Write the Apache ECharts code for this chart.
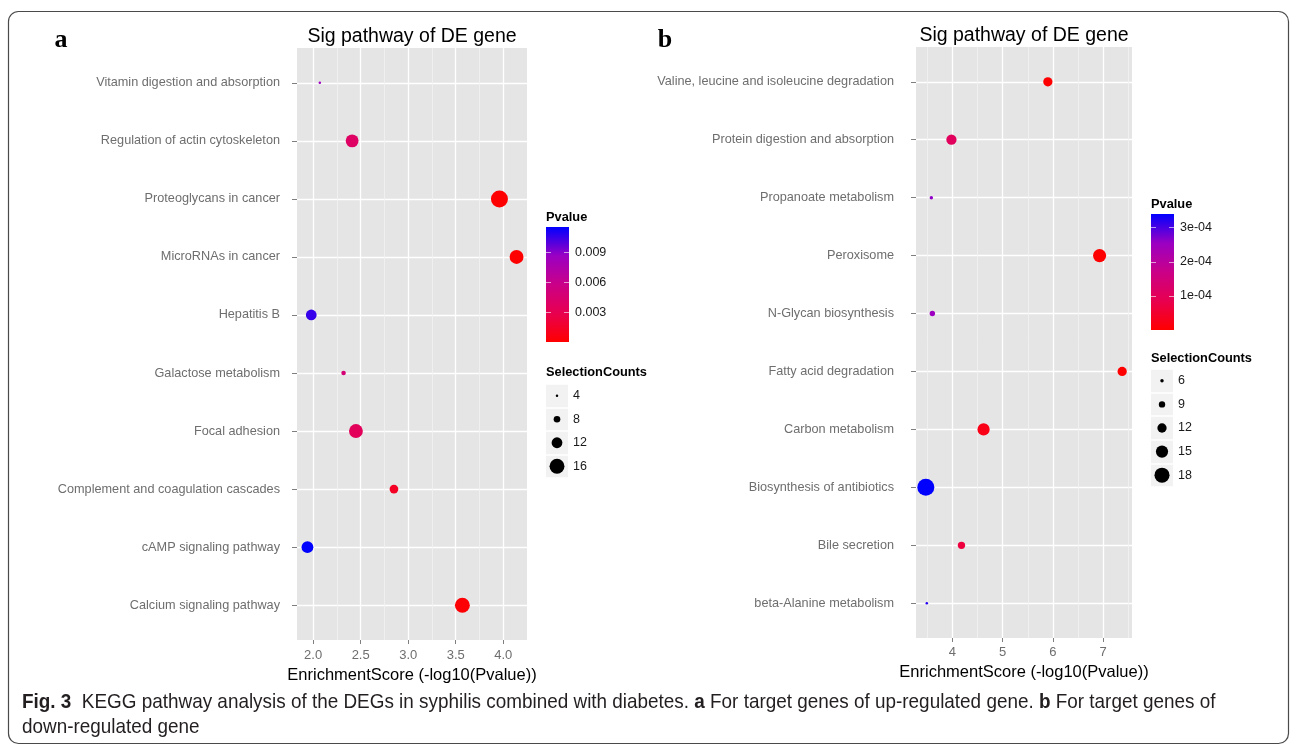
<!DOCTYPE html>
<html>
<head>
<meta charset="utf-8">
<script src="https://cdn.jsdelivr.net/npm/echarts@6/dist/echarts.min.js"></script>
<style>
  html, body { margin: 0; padding: 0; background: #fff; }
  #chart { width: 1290px; height: 745px; }
</style>
</head>
<body>
<div id="chart"></div>
<script>
// panel a (up-regulated), listed bottom to top like the ggplot axis
const pathwaysA = ['Calcium signaling pathway', 'cAMP signaling pathway', 'Complement and coagulation cascades', 'Focal adhesion', 'Galactose metabolism', 'Hepatitis B', 'MicroRNAs in cancer', 'Proteoglycans in cancer', 'Regulation of actin cytoskeleton', 'Vitamin digestion and absorption']
const scoreA = [3.57, 1.94, 2.85, 2.45, 2.32, 1.98, 4.14, 3.96, 2.41, 2.07]
const pvalueA = [0.00027, 0.0115, 0.0014, 0.0035, 0.0048, 0.0105, 0.00007, 0.00011, 0.0039, 0.0085]
const countA = [16, 13, 10, 15, 6, 12, 15, 18, 14, 4]
const xTicksA = [2.0, 2.5, 3.0, 3.5, 4.0]
const xTickLabelsA = ['2.0', '2.5', '3.0', '3.5', '4.0']
const xMinorA = [2.25, 2.75, 3.25, 3.75]
const pTicksA = [0.003, 0.006, 0.009]
const pTickLabelsA = ['0.003', '0.006', '0.009']
const sizeBreaksA = [4, 8, 12, 16]

// panel b (down-regulated)
const pathwaysB = ['beta-Alanine metabolism', 'Bile secretion', 'Biosynthesis of antibiotics', 'Carbon metabolism', 'Fatty acid degradation', 'N-Glycan biosynthesis', 'Peroxisome', 'Propanoate metabolism', 'Protein digestion and absorption', 'Valine, leucine and isoleucine degradation']
const scoreB = [3.49, 4.18, 3.47, 4.62, 7.38, 3.6, 6.93, 3.58, 3.98, 5.9]
const pvalueB = [3.2e-4, 6.6e-5, 3.4e-4, 2.4e-5, 4e-8, 2.5e-4, 1.2e-7, 2.6e-4, 1.05e-4, 1.3e-6]
const countB = [5, 10, 20, 15, 12, 8, 16, 6, 13, 12]
const xTicksB = [4, 5, 6, 7]
const xTickLabelsB = ['4', '5', '6', '7']
const xMinorB = [3.5, 4.5, 5.5, 6.5, 7.5]
const pTicksB = [1e-4, 2e-4, 3e-4]
const pTickLabelsB = ['1e-04', '2e-04', '3e-04']
const sizeBreaksB = [6, 9, 12, 15, 18]

const colorRamp = ['#FF0000', '#E8004F', '#CA0088', '#9A00C3', '#0000FF']
const font = 'Liberation Sans, Arial, sans-serif'
const captionFont = 'Liberation Sans, Arial, sans-serif'

const chart = echarts.init(document.getElementById('chart'))

function sizeScale(counts) {
  const lo = Math.min(...counts), hi = Math.max(...counts)
  return c => 2.5 + 14.5 * (c - lo) / (hi - lo)
}
const sizeA = sizeScale(countA)
const sizeB = sizeScale(countB)

// ggplot style 5% expansion of the data range
function expand(values) {
  const lo = Math.min(...values), hi = Math.max(...values)
  const pad = (hi - lo) * 0.05
  return [lo - pad, hi + pad]
}
const rangeA = expand(scoreA)
const rangeB = expand(scoreB)

function pick(ticks, labels) {
  return v => {
    const i = ticks.findIndex(t => Math.abs(t - v) < 1e-9)
    return i < 0 ? '' : labels[i]
  }
}

function panelXAxes(gridIndex, range, ticks, labels, minor, labelMargin) {
  return [{
    type: 'value', gridIndex, min: range[0], max: range[1],
    name: 'EnrichmentScore (-log10(Pvalue))', nameLocation: 'middle', nameGap: 24,
    nameTextStyle: { fontSize: 16.5, color: '#000', fontFamily: font },
    axisLine: { show: false },
    axisTick: { length: 4, customValues: ticks, lineStyle: { color: '#7F7F7F' } },
    axisLabel: { customValues: ticks, margin: labelMargin, fontSize: 13, color: '#6E6E6E', fontFamily: font, formatter: pick(ticks, labels) },
    splitLine: { show: true, lineStyle: { color: '#FFFFFF', width: 1.3 } }
  }, {
    type: 'value', gridIndex, min: range[0], max: range[1], position: 'bottom',
    axisLine: { show: false },
    axisTick: { show: false, customValues: minor },
    axisLabel: { show: false, customValues: minor },
    splitLine: { show: true, lineStyle: { color: '#F2F2F2', width: 0.8 } }
  }]
}

function panelYAxis(gridIndex, names, labelMargin) {
  const idx = names.map((_, i) => i + 1)
  return {
    type: 'value', gridIndex, min: 1 - 0.6, max: names.length + 0.6,
    axisLine: { show: false },
    axisTick: { length: 5, customValues: idx, lineStyle: { color: '#7F7F7F' } },
    axisLabel: { customValues: idx, margin: labelMargin, fontSize: 12.7, color: '#6E6E6E', fontFamily: font, formatter: v => names[Math.round(v) - 1] || '' },
    splitLine: { show: true, lineStyle: { color: '#FFFFFF', width: 1.3 } }
  }
}

function barYAxis(gridIndex, pvals, ticks, labels) {
  return {
    type: 'value', gridIndex, position: 'right',
    min: Math.min(...pvals), max: Math.max(...pvals),
    axisLine: { show: false },
    axisTick: { show: false, customValues: ticks },
    axisLabel: { customValues: ticks, margin: 6, fontSize: 12.5, color: '#1A1A1A', fontFamily: font, formatter: pick(ticks, labels) },
    splitLine: { show: true, lineStyle: { color: 'rgba(255,255,255,0.6)', width: 1, type: [5, 13] } }
  }
}

function keyYAxis(gridIndex, breaks) {
  return {
    type: 'category', gridIndex, position: 'right', inverse: true,
    data: breaks.map(String),
    axisLine: { show: false },
    axisTick: { show: false },
    axisLabel: { margin: 5, fontSize: 12.5, color: '#1A1A1A', fontFamily: font },
    splitLine: { show: true, lineStyle: { color: '#FFFFFF', width: 1.5 } }
  }
}

const hiddenX = gridIndex => ({ type: 'value', gridIndex, min: 0, max: 1, show: false })

const gradient = new echarts.graphic.LinearGradient(0, 0, 0, 1,
  colorRamp.slice().reverse().map((c, i, arr) => ({ offset: i / (arr.length - 1), color: c })))

const option = {
  backgroundColor: '#FFFFFF',
  animation: false,
  grid: [
    { left: 297, top: 48, width: 230, height: 592, show: true, backgroundColor: '#E5E5E5', borderWidth: 0 },
    { left: 916, top: 47, width: 216, height: 591, show: true, backgroundColor: '#E5E5E5', borderWidth: 0 },
    { left: 546, top: 227, width: 23, height: 115, show: true, backgroundColor: gradient, borderWidth: 0 },
    { left: 546, top: 384, width: 22, height: 94, show: true, backgroundColor: '#F2F2F2', borderWidth: 0 },
    { left: 1151, top: 214, width: 23, height: 116, show: true, backgroundColor: gradient, borderWidth: 0 },
    { left: 1151, top: 369, width: 22, height: 118, show: true, backgroundColor: '#F2F2F2', borderWidth: 0 }
  ],
  xAxis: [
    ...panelXAxes(0, rangeA, xTicksA, xTickLabelsA, xMinorA, 9),
    ...panelXAxes(1, rangeB, xTicksB, xTickLabelsB, xMinorB, 8),
    hiddenX(2), hiddenX(3), hiddenX(4), hiddenX(5)
  ],
  yAxis: [
    panelYAxis(0, pathwaysA, 17),
    panelYAxis(1, pathwaysB, 22),
    barYAxis(2, pvalueA, pTicksA, pTickLabelsA),
    keyYAxis(3, sizeBreaksA),
    barYAxis(4, pvalueB, pTicksB, pTickLabelsB),
    keyYAxis(5, sizeBreaksB)
  ],
  visualMap: [
    { type: 'continuous', show: false, seriesIndex: 0, dimension: 2, min: Math.min(...pvalueA), max: Math.max(...pvalueA), inRange: { color: colorRamp } },
    { type: 'continuous', show: false, seriesIndex: 1, dimension: 2, min: Math.min(...pvalueB), max: Math.max(...pvalueB), inRange: { color: colorRamp } }
  ],
  series: [
    {
      type: 'scatter', xAxisIndex: 0, yAxisIndex: 0,
      data: scoreA.map((s, i) => [s, i + 1, pvalueA[i], countA[i]]),
      symbolSize: v => sizeA(v[3]),
      itemStyle: { opacity: 1 }
    },
    {
      type: 'scatter', xAxisIndex: 2, yAxisIndex: 1,
      data: scoreB.map((s, i) => [s, i + 1, pvalueB[i], countB[i]]),
      symbolSize: v => sizeB(v[3]),
      itemStyle: { opacity: 1 }
    },
    {
      type: 'scatter', xAxisIndex: 5, yAxisIndex: 3,
      data: sizeBreaksA.map(b => [0.5, String(b), b]),
      symbolSize: v => sizeA(v[2]),
      itemStyle: { color: '#000000', opacity: 1 }
    },
    {
      type: 'scatter', xAxisIndex: 7, yAxisIndex: 5,
      data: sizeBreaksB.map(b => [0.5, String(b), b]),
      symbolSize: v => sizeB(v[2]),
      itemStyle: { color: '#000000', opacity: 1 }
    }
  ],
  graphic: [
    { type: 'rect', shape: { x: 8.5, y: 11.5, width: 1280, height: 732, r: 10 }, style: { fill: 'none', stroke: '#4A4A4A', lineWidth: 1.2 }, silent: true },
    { type: 'text', x: 61, y: 40, style: { text: 'a', fontSize: 26, fontWeight: 'bold', fontFamily: 'Liberation Serif, serif', fill: '#000', align: 'center', verticalAlign: 'middle' } },
    { type: 'text', x: 665, y: 40, style: { text: 'b', fontSize: 26, fontWeight: 'bold', fontFamily: 'Liberation Serif, serif', fill: '#000', align: 'center', verticalAlign: 'middle' } },
    { type: 'text', x: 412, y: 37, style: { text: 'Sig pathway of DE gene', fontSize: 19.5, fontFamily: font, fill: '#000', align: 'center', verticalAlign: 'middle' } },
    { type: 'text', x: 1024, y: 36, style: { text: 'Sig pathway of DE gene', fontSize: 19.5, fontFamily: font, fill: '#000', align: 'center', verticalAlign: 'middle' } },
    { type: 'text', x: 546, y: 217, style: { text: 'Pvalue', fontSize: 12.8, fontWeight: 'bold', fontFamily: font, fill: '#000', align: 'left', verticalAlign: 'middle' } },
    { type: 'text', x: 546, y: 372, style: { text: 'SelectionCounts', fontSize: 12.8, fontWeight: 'bold', fontFamily: font, fill: '#000', align: 'left', verticalAlign: 'middle' } },
    { type: 'text', x: 1151, y: 204, style: { text: 'Pvalue', fontSize: 12.8, fontWeight: 'bold', fontFamily: font, fill: '#000', align: 'left', verticalAlign: 'middle' } },
    { type: 'text', x: 1151, y: 358, style: { text: 'SelectionCounts', fontSize: 12.8, fontWeight: 'bold', fontFamily: font, fill: '#000', align: 'left', verticalAlign: 'middle' } },
    // caption set in a condensed look by squeezing the text horizontally
    {
      type: 'text', x: 22, y: 702, scaleX: 0.9,
      style: {
        text: '{b|Fig. 3}{n|  KEGG pathway analysis of the DEGs in syphilis combined with diabetes. }{b|a}{n| For target genes of up-regulated gene. }{b|b}{n| For target genes of}',
        verticalAlign: 'middle',
        rich: {
          b: { fontSize: 21, fontWeight: 'bold', fontFamily: captionFont, fill: '#231F20' },
          n: { fontSize: 21, fontFamily: captionFont, fill: '#231F20' }
        }
      }
    },
    { type: 'text', x: 22, y: 727, scaleX: 0.9, style: { text: 'down-regulated gene', fontSize: 21, fontFamily: captionFont, fill: '#231F20', verticalAlign: 'middle' } }
  ]
}

chart.setOption(option)
</script>
</body>
</html>
